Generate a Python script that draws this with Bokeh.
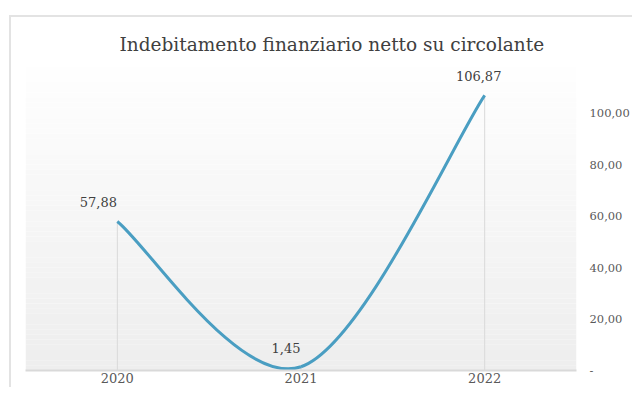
import numpy as np
from bokeh.plotting import figure
from bokeh.models import FixedTicker, ColumnDataSource, LabelSet, Range1d
from bokeh.embed import file_html
from bokeh.resources import INLINE
from bokeh.core.properties import value

# ---- data ----
categories = ["2020", "2021", "2022"]
values = [57.88, 1.45, 106.87]
value_labels = ["57,88", "1,45", "106,87"]
y_ticks = [0, 20, 40, 60, 80, 100]
y_tick_labels = ["-", "20,00", "40,00", "60,00", "80,00", "100,00"]

# ---- style ----
LINE_COLOR = "#4A9EC2"
GRID_GRAY = "#d9d9d9"
BORDER_GRAY = "#e3e3e3"
TEXT_GRAY = "#595959"
SERIF = "DejaVu Serif"
label_x_offsets = [-19, -15, -6]

xs = np.arange(len(categories), dtype=float)
ys = np.array(values, dtype=float)

W, H = 632, 387
p = figure(width=W, height=H, output_backend="svg", toolbar_location=None,
           x_range=Range1d(-0.5, len(categories) - 0.5), y_range=Range1d(0, 120),
           y_axis_location="right", min_border_left=25, min_border_right=53,
           min_border_top=61, min_border_bottom=17)

# chart-area border (top and left edges) drawn as the page background of the plot
p.border_fill_color = None
p.styles = {
    "background-color": "white",
    "background-image": "linear-gradient(%s, %s), linear-gradient(%s, %s)"
                        % (BORDER_GRAY, BORDER_GRAY, BORDER_GRAY, BORDER_GRAY),
    "background-position": "9px 15px, 9px 15px",
    "background-size": "100% 2px, 2px 100%",
    "background-repeat": "no-repeat",
}

p.title.text = "Indebitamento finanziario netto su circolante"
p.title.align = "left"
p.title.offset = 94
p.title.standoff = 13
p.title.text_font = SERIF
p.title.text_font_size = "18.5px"
p.title.text_font_style = "normal"
p.title.text_color = "#404040"

p.outline_line_color = None
p.xgrid.visible = False
p.ygrid.visible = False
p.background_fill_color = "white"

# gradient background (white at top to light gray at bottom)
n = 60
edges = np.linspace(p.y_range.start, p.y_range.end, n + 1)
shades = np.linspace(238, 255, n).astype(int)
cols = ["#%02x%02x%02x" % (s, s, s) for s in shades]
p.quad(left=p.x_range.start, right=p.x_range.end, bottom=edges[:-1], top=edges[1:],
       fill_color=cols, line_color=None)

# drop lines
p.segment(x0=xs, y0=np.zeros_like(ys), x1=xs, y1=ys, line_color=GRID_GRAY, line_width=1)

# Excel-style smoothed line via Bezier segments
pts = np.column_stack([xs, ys])
ext = np.vstack([pts[0], pts, pts[-1]])
x0, y0, x1, y1, cx0, cy0, cx1, cy1 = ([] for _ in range(8))
for i in range(len(pts) - 1):
    pm, p0, p1, p2 = ext[i], ext[i + 1], ext[i + 2], ext[i + 3]
    c0 = p0 + (p1 - pm) / 6.0
    c1 = p1 - (p2 - p0) / 6.0
    x0.append(p0[0]); y0.append(p0[1]); x1.append(p1[0]); y1.append(p1[1])
    cx0.append(c0[0]); cy0.append(c0[1]); cx1.append(c1[0]); cy1.append(c1[1])
p.bezier(x0=x0, y0=y0, x1=x1, y1=y1, cx0=cx0, cy0=cy0, cx1=cx1, cy1=cy1,
         line_color=LINE_COLOR, line_width=3)

# data labels
src = ColumnDataSource(dict(x=xs, y=ys, t=value_labels, dx=label_x_offsets))
labels = LabelSet(x="x", y="y", text="t", source=src, x_offset="dx", y_offset=14,
                  text_align="center", text_baseline="bottom",
                  text_font=value(SERIF), text_font_size="13px", text_color="#404040")
p.add_layout(labels)

# x axis
p.xaxis.ticker = FixedTicker(ticks=list(xs))
p.xaxis.major_label_overrides = {int(x): c for x, c in zip(xs, categories)}
p.xaxis.axis_line_color = GRID_GRAY
p.xaxis.axis_line_width = 2
p.xaxis.major_tick_line_color = None
p.xaxis.minor_tick_line_color = None
p.xaxis.major_tick_out = 0
p.xaxis.major_tick_in = 0
p.xaxis.minor_tick_out = 0
p.xaxis.major_label_standoff = 2
p.xaxis.major_label_text_font = SERIF
p.xaxis.major_label_text_font_size = "13px"
p.xaxis.major_label_text_color = TEXT_GRAY

# y axis (right)
p.yaxis.ticker = FixedTicker(ticks=y_ticks)
p.yaxis.major_label_overrides = {t: l for t, l in zip(y_ticks, y_tick_labels)}
p.yaxis.axis_line_color = None
p.yaxis.major_tick_line_color = None
p.yaxis.minor_tick_line_color = None
p.yaxis.major_tick_out = 0
p.yaxis.major_tick_in = 0
p.yaxis.minor_tick_out = 0
p.yaxis.major_label_standoff = 13
p.yaxis.major_label_text_font = SERIF
p.yaxis.major_label_text_font_size = "11.5px"
p.yaxis.major_label_text_color = TEXT_GRAY

open("out.html", "w").write(file_html(p, INLINE))
